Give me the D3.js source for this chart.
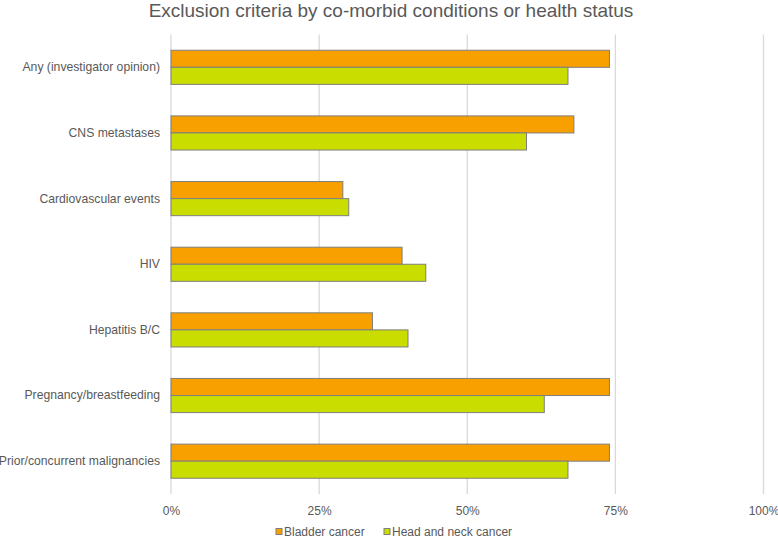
<!DOCTYPE html>
<html><head><meta charset="utf-8">
<script src="https://cdn.jsdelivr.net/npm/d3@7"></script>
<style>body{margin:0;background:#fff}svg{display:block;font-family:"Liberation Sans",Arial,sans-serif}</style>
</head><body><svg id="c" width="778" height="539"></svg>
<script>
const categories = ["Any (investigator opinion)","CNS metastases","Cardiovascular events","HIV","Hepatitis B/C","Pregnancy/breastfeeding","Prior/concurrent malignancies"];
const seriesNames = ["Bladder cancer","Head and neck cancer"];
const bladder = [74,68,29,39,34,74,74];
const headNeck = [67,60,30,43,40,63,67];
const ticks = [0,25,50,75,100];
const tickLabels = ["0%","25%","50%","75%","100%"];
const colors = ["#F7A000","#C9DD00"];

const svg = d3.select("#c");
const m = {l:171, r:15, t:34.5, b:45};
const x = d3.scaleLinear().domain([0,100]).range([m.l, 763.5]);
const y = d3.scaleBand().domain(categories).range([m.t, 494]).paddingInner(0.48).paddingOuter(0.24);
const ys = d3.scaleBand().domain(seriesNames).range([0, y.bandwidth()]);

svg.append("text").attr("x",391).attr("y",17).attr("text-anchor","middle")
  .attr("font-size",19).attr("fill","#595959").text("Exclusion criteria by co-morbid conditions or health status");

// gridlines
svg.append("g").selectAll("line").data(ticks).join("line")
  .attr("x1",d=>x(d)).attr("x2",d=>x(d)).attr("y1",m.t).attr("y2",494)
  .attr("stroke","#D9D9D9").attr("stroke-width",1.3);

// x axis labels
const xa = svg.append("g").attr("transform","translate(0,503)")
  .call(d3.axisBottom(x).tickValues(ticks).tickFormat((d,i)=>tickLabels[i]).tickSize(0));
xa.select(".domain").remove();
xa.selectAll("text").attr("font-size",12).attr("fill","#595959").attr("font-family","Liberation Sans, Arial, sans-serif");

// y axis labels
const ya = svg.append("g").attr("transform",`translate(${m.l},0)`)
  .call(d3.axisLeft(y).tickSize(0).tickPadding(11));
ya.select(".domain").remove();
ya.selectAll("text").attr("font-size",12.2).attr("fill","#595959").attr("font-family","Liberation Sans, Arial, sans-serif");

const data = [bladder, headNeck];
seriesNames.forEach((s,si)=>{
  svg.append("g").selectAll("rect").data(categories).join("rect")
    .attr("x",x(0)).attr("y",(c)=>y(c)+ys(s))
    .attr("width",(c,i)=>x(data[si][i])-x(0)).attr("height",ys.bandwidth())
    .attr("fill",colors[si]).attr("stroke","#7F7F7F").attr("stroke-width",1);
});

// legend
const lg = svg.append("g").attr("transform","translate(0,532)");
const lx = [276, 384];
seriesNames.forEach((s,i)=>{
  lg.append("rect").attr("x",lx[i]).attr("y",-3.5).attr("width",6).attr("height",6)
    .attr("fill",colors[i]).attr("stroke","#7F7F7F").attr("stroke-width",1);
  lg.append("text").attr("x",lx[i]+8).attr("y",0).attr("dy","0.35em").attr("font-size",12)
    .attr("fill","#595959").text(s);
});
</script></body></html>
